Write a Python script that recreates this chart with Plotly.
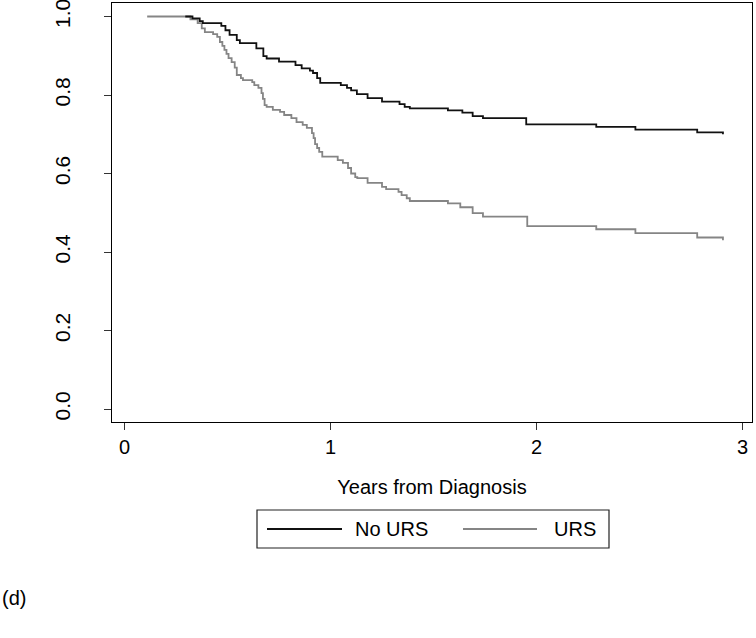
import plotly.graph_objects as go

# Kaplan-Meier step data (time in years, survival proportion)
no_urs_time = [0.295, 0.33, 0.365, 0.38, 0.47, 0.49, 0.51, 0.545, 0.56, 0.64, 0.674, 0.69,
               0.75, 0.83, 0.86, 0.90, 0.915, 0.935, 0.95, 1.05, 1.08, 1.10, 1.128, 1.18,
               1.25, 1.335, 1.36, 1.385, 1.57, 1.64, 1.69, 1.74, 1.95, 2.29, 2.48, 2.78, 2.905]
no_urs_surv = [1.0, 0.995, 0.988, 0.983, 0.976, 0.965, 0.953, 0.940, 0.932, 0.919, 0.899, 0.893,
               0.885, 0.876, 0.868, 0.862, 0.856, 0.843, 0.831, 0.825, 0.818, 0.812, 0.802, 0.792,
               0.783, 0.777, 0.770, 0.766, 0.761, 0.755, 0.746, 0.741, 0.725, 0.719, 0.712, 0.705, 0.700]

urs_time = [0.11, 0.32, 0.355, 0.375, 0.39, 0.43, 0.45, 0.463, 0.475, 0.485, 0.495, 0.505,
            0.52, 0.535, 0.545, 0.565, 0.575, 0.62, 0.63, 0.65, 0.665, 0.672, 0.68, 0.69,
            0.72, 0.755, 0.775, 0.81, 0.835, 0.865, 0.885, 0.91, 0.918, 0.925, 0.935, 0.945,
            0.96, 1.035, 1.06, 1.085, 1.10, 1.12, 1.13, 1.18, 1.25, 1.27, 1.33, 1.345, 1.37,
            1.385, 1.57, 1.63, 1.69, 1.74, 1.955, 2.29, 2.48, 2.78, 2.905]
urs_surv = [1.0, 0.993, 0.983, 0.970, 0.960, 0.955, 0.948, 0.935, 0.925, 0.915, 0.905, 0.894,
            0.884, 0.870, 0.851, 0.843, 0.838, 0.833, 0.825, 0.818, 0.805, 0.790, 0.774, 0.770,
            0.762, 0.757, 0.749, 0.741, 0.731, 0.724, 0.716, 0.703, 0.690, 0.675, 0.665, 0.655,
            0.643, 0.634, 0.627, 0.614, 0.600, 0.591, 0.588, 0.576, 0.566, 0.560, 0.553, 0.545, 0.537,
            0.530, 0.524, 0.514, 0.499, 0.490, 0.466, 0.458, 0.448, 0.437, 0.430]

series_names = ["No URS", "URS"]
x_ticks = [0, 1, 2, 3]
y_ticks = [0.0, 0.2, 0.4, 0.6, 0.8, 1.0]
x_title = "Years from Diagnosis"
panel_label = "(d)"

BLACK = "#111111"
GRAY = "#858585"
FONT = "Liberation Sans, Arial, sans-serif"

W, H = 756, 638
L, R, T, B = 112, 4, 3, 216
pw, ph = W - L - R, H - T - B


def px(xp):
    return (xp - L) / pw


def py(yp):
    return (H - B - yp) / ph


fig = go.Figure()
fig.add_trace(go.Scatter(x=urs_time, y=urs_surv, mode="lines", line_shape="hv",
                         line=dict(color=GRAY, width=1.8), name=series_names[1],
                         showlegend=False))
fig.add_trace(go.Scatter(x=no_urs_time, y=no_urs_surv, mode="lines", line_shape="hv",
                         line=dict(color=BLACK, width=1.8), name=series_names[0],
                         showlegend=False))

# manual legend box (Stata style)
shapes = [
    dict(type="rect", xref="paper", yref="paper", x0=px(257), x1=px(609), y0=py(548), y1=py(510),
         line=dict(color="#222222", width=1.2), fillcolor="white"),
    dict(type="line", xref="paper", yref="paper", x0=px(267), x1=px(342), y0=py(529), y1=py(529),
         line=dict(color=BLACK, width=1.8)),
    dict(type="line", xref="paper", yref="paper", x0=px(463), x1=px(537), y0=py(529), y1=py(529),
         line=dict(color=GRAY, width=1.8)),
]
annotations = [
    dict(text=series_names[0], xref="paper", yref="paper", x=px(353), y=py(529),
         xanchor="left", yanchor="middle", showarrow=False, font=dict(size=20, color="black", family=FONT)),
    dict(text=series_names[1], xref="paper", yref="paper", x=px(552), y=py(529),
         xanchor="left", yanchor="middle", showarrow=False, font=dict(size=20, color="black", family=FONT)),
    dict(text=panel_label, xref="paper", yref="paper", x=px(0), y=py(598),
         xanchor="left", yanchor="middle", showarrow=False, font=dict(size=20, color="black", family=FONT)),
]

fig.update_layout(
    width=W, height=H,
    margin=dict(l=L, r=R, t=T, b=B, autoexpand=False),
    paper_bgcolor="white", plot_bgcolor="white",
    font=dict(family=FONT, size=20, color="black"),
    shapes=shapes, annotations=annotations,
    showlegend=False,
    xaxis=dict(range=[-0.0607, 3.046], tickvals=x_ticks, ticks="outside", ticklen=7,
               tickcolor="#333333", tickwidth=1, showgrid=False, zeroline=False,
               showline=True, linecolor="black", linewidth=1.2, mirror=True,
               ticklabeloverflow="allow",
               tickfont=dict(size=20, family=FONT),
               title=dict(text=x_title, font=dict(size=20, family=FONT), standoff=22)),
    yaxis=dict(range=[-0.0331, 1.0344], tickvals=y_ticks, tickformat=".1f", ticks="outside",
               ticklen=7, tickcolor="#333333", tickwidth=1, showgrid=False, zeroline=False,
               showline=True, linecolor="black", linewidth=1.2, mirror=True,
               ticklabeloverflow="allow",
               tickangle=-90, tickfont=dict(size=21, family=FONT), ticklabelstandoff=26),
)

fig.write_html("out.html", config={"displayModeBar": False},
               post_script="document.body.style.margin='0';")
